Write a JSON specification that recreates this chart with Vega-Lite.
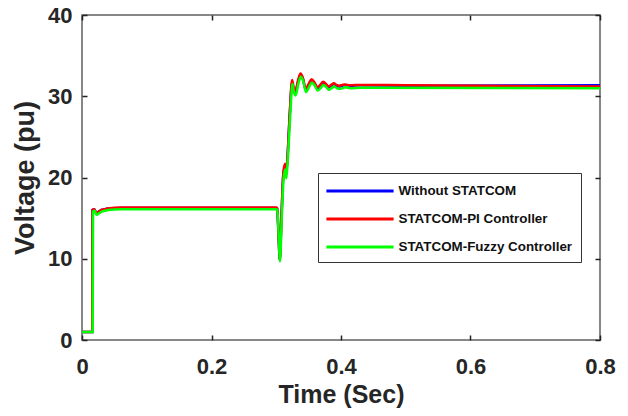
{
  "$schema": "https://vega.github.io/schema/vega-lite/v6.json",
  "autosize": "none",
  "width": 518,
  "height": 325,
  "padding": {"left": 82, "top": 15, "right": 28, "bottom": 76},
  "background": "white",
  "config": {
    "font": "Liberation Sans",
    "view": {"stroke": "#606060", "strokeWidth": 1.5},
    "axis": {
      "grid": false,
      "domain": false,
      "labelFlush": false,
      "labelOverlap": false,
      "tickColor": "#222222",
      "tickSize": -5,
      "tickWidth": 1.5,
      "labelFont": "Liberation Sans",
      "labelFontWeight": "bold",
      "labelFontSize": 22,
      "labelColor": "#262626",
      "titleFont": "Liberation Sans",
      "titleFontWeight": "bold",
      "titleColor": "#262626"
    }
  },
  "data": {
    "values": [
      {"series": "Without STATCOM", "t": 0, "v": 1},
      {"series": "Without STATCOM", "t": 0.0158, "v": 1},
      {"series": "Without STATCOM", "t": 0.0162, "v": 16.0},
      {"series": "Without STATCOM", "t": 0.019, "v": 16.1},
      {"series": "Without STATCOM", "t": 0.022, "v": 15.6},
      {"series": "Without STATCOM", "t": 0.026, "v": 15.8},
      {"series": "Without STATCOM", "t": 0.03, "v": 16.0},
      {"series": "Without STATCOM", "t": 0.035, "v": 16.1},
      {"series": "Without STATCOM", "t": 0.04, "v": 16.2},
      {"series": "Without STATCOM", "t": 0.06, "v": 16.25},
      {"series": "Without STATCOM", "t": 0.3, "v": 16.25},
      {"series": "Without STATCOM", "t": 0.3015, "v": 16.2},
      {"series": "Without STATCOM", "t": 0.3035, "v": 13},
      {"series": "Without STATCOM", "t": 0.3055, "v": 9.9},
      {"series": "Without STATCOM", "t": 0.308, "v": 15},
      {"series": "Without STATCOM", "t": 0.311, "v": 20.4},
      {"series": "Without STATCOM", "t": 0.3135, "v": 21.4},
      {"series": "Without STATCOM", "t": 0.315, "v": 20.3},
      {"series": "Without STATCOM", "t": 0.317, "v": 22},
      {"series": "Without STATCOM", "t": 0.321, "v": 28},
      {"series": "Without STATCOM", "t": 0.3245, "v": 31.7},
      {"series": "Without STATCOM", "t": 0.3265, "v": 31.0},
      {"series": "Without STATCOM", "t": 0.3295, "v": 30.5},
      {"series": "Without STATCOM", "t": 0.3335, "v": 31.7},
      {"series": "Without STATCOM", "t": 0.3375, "v": 32.6},
      {"series": "Without STATCOM", "t": 0.341, "v": 32.2},
      {"series": "Without STATCOM", "t": 0.3455, "v": 30.8},
      {"series": "Without STATCOM", "t": 0.35, "v": 31.4},
      {"series": "Without STATCOM", "t": 0.3545, "v": 31.9},
      {"series": "Without STATCOM", "t": 0.359, "v": 31.6},
      {"series": "Without STATCOM", "t": 0.3635, "v": 31.0},
      {"series": "Without STATCOM", "t": 0.368, "v": 31.3},
      {"series": "Without STATCOM", "t": 0.3725, "v": 31.7},
      {"series": "Without STATCOM", "t": 0.377, "v": 31.4},
      {"series": "Without STATCOM", "t": 0.3805, "v": 31.1},
      {"series": "Without STATCOM", "t": 0.385, "v": 31.3},
      {"series": "Without STATCOM", "t": 0.389, "v": 31.5},
      {"series": "Without STATCOM", "t": 0.393, "v": 31.3},
      {"series": "Without STATCOM", "t": 0.397, "v": 31.2},
      {"series": "Without STATCOM", "t": 0.402, "v": 31.3},
      {"series": "Without STATCOM", "t": 0.406, "v": 31.4},
      {"series": "Without STATCOM", "t": 0.414, "v": 31.3},
      {"series": "Without STATCOM", "t": 0.43, "v": 31.35},
      {"series": "Without STATCOM", "t": 0.5, "v": 31.3},
      {"series": "Without STATCOM", "t": 0.8, "v": 31.35},

      {"series": "STATCOM-PI Controller", "t": 0, "v": 1},
      {"series": "STATCOM-PI Controller", "t": 0.0158, "v": 1},
      {"series": "STATCOM-PI Controller", "t": 0.0162, "v": 16.0},
      {"series": "STATCOM-PI Controller", "t": 0.019, "v": 16.1},
      {"series": "STATCOM-PI Controller", "t": 0.022, "v": 15.6},
      {"series": "STATCOM-PI Controller", "t": 0.026, "v": 15.8},
      {"series": "STATCOM-PI Controller", "t": 0.03, "v": 16.0},
      {"series": "STATCOM-PI Controller", "t": 0.035, "v": 16.1},
      {"series": "STATCOM-PI Controller", "t": 0.04, "v": 16.2},
      {"series": "STATCOM-PI Controller", "t": 0.06, "v": 16.3},
      {"series": "STATCOM-PI Controller", "t": 0.3, "v": 16.3},
      {"series": "STATCOM-PI Controller", "t": 0.3015, "v": 16.2},
      {"series": "STATCOM-PI Controller", "t": 0.3035, "v": 13},
      {"series": "STATCOM-PI Controller", "t": 0.3055, "v": 9.9},
      {"series": "STATCOM-PI Controller", "t": 0.308, "v": 15},
      {"series": "STATCOM-PI Controller", "t": 0.311, "v": 20.6},
      {"series": "STATCOM-PI Controller", "t": 0.3135, "v": 21.7},
      {"series": "STATCOM-PI Controller", "t": 0.315, "v": 20.4},
      {"series": "STATCOM-PI Controller", "t": 0.317, "v": 22},
      {"series": "STATCOM-PI Controller", "t": 0.321, "v": 28},
      {"series": "STATCOM-PI Controller", "t": 0.3245, "v": 32.0},
      {"series": "STATCOM-PI Controller", "t": 0.3265, "v": 31.2},
      {"series": "STATCOM-PI Controller", "t": 0.3295, "v": 30.6},
      {"series": "STATCOM-PI Controller", "t": 0.3335, "v": 31.9},
      {"series": "STATCOM-PI Controller", "t": 0.3375, "v": 32.8},
      {"series": "STATCOM-PI Controller", "t": 0.341, "v": 32.3},
      {"series": "STATCOM-PI Controller", "t": 0.3455, "v": 30.9},
      {"series": "STATCOM-PI Controller", "t": 0.35, "v": 31.5},
      {"series": "STATCOM-PI Controller", "t": 0.3545, "v": 32.1},
      {"series": "STATCOM-PI Controller", "t": 0.359, "v": 31.7},
      {"series": "STATCOM-PI Controller", "t": 0.3635, "v": 31.1},
      {"series": "STATCOM-PI Controller", "t": 0.368, "v": 31.4},
      {"series": "STATCOM-PI Controller", "t": 0.3725, "v": 31.8},
      {"series": "STATCOM-PI Controller", "t": 0.377, "v": 31.5},
      {"series": "STATCOM-PI Controller", "t": 0.3805, "v": 31.2},
      {"series": "STATCOM-PI Controller", "t": 0.385, "v": 31.4},
      {"series": "STATCOM-PI Controller", "t": 0.389, "v": 31.6},
      {"series": "STATCOM-PI Controller", "t": 0.393, "v": 31.4},
      {"series": "STATCOM-PI Controller", "t": 0.397, "v": 31.3},
      {"series": "STATCOM-PI Controller", "t": 0.402, "v": 31.4},
      {"series": "STATCOM-PI Controller", "t": 0.406, "v": 31.45},
      {"series": "STATCOM-PI Controller", "t": 0.414, "v": 31.35},
      {"series": "STATCOM-PI Controller", "t": 0.43, "v": 31.4},
      {"series": "STATCOM-PI Controller", "t": 0.5, "v": 31.35},
      {"series": "STATCOM-PI Controller", "t": 0.8, "v": 31.2},

      {"series": "STATCOM-Fuzzy Controller", "t": 0, "v": 1},
      {"series": "STATCOM-Fuzzy Controller", "t": 0.0165, "v": 1},
      {"series": "STATCOM-Fuzzy Controller", "t": 0.017, "v": 15.8},
      {"series": "STATCOM-Fuzzy Controller", "t": 0.0195, "v": 15.9},
      {"series": "STATCOM-Fuzzy Controller", "t": 0.0225, "v": 15.4},
      {"series": "STATCOM-Fuzzy Controller", "t": 0.0265, "v": 15.6},
      {"series": "STATCOM-Fuzzy Controller", "t": 0.0305, "v": 15.8},
      {"series": "STATCOM-Fuzzy Controller", "t": 0.0355, "v": 15.9},
      {"series": "STATCOM-Fuzzy Controller", "t": 0.0405, "v": 16.0},
      {"series": "STATCOM-Fuzzy Controller", "t": 0.06, "v": 16.1},
      {"series": "STATCOM-Fuzzy Controller", "t": 0.3, "v": 16.1},
      {"series": "STATCOM-Fuzzy Controller", "t": 0.3015, "v": 16.0},
      {"series": "STATCOM-Fuzzy Controller", "t": 0.3037, "v": 13},
      {"series": "STATCOM-Fuzzy Controller", "t": 0.3058, "v": 9.7},
      {"series": "STATCOM-Fuzzy Controller", "t": 0.3085, "v": 15},
      {"series": "STATCOM-Fuzzy Controller", "t": 0.3115, "v": 20.0},
      {"series": "STATCOM-Fuzzy Controller", "t": 0.314, "v": 21.0},
      {"series": "STATCOM-Fuzzy Controller", "t": 0.3155, "v": 19.9},
      {"series": "STATCOM-Fuzzy Controller", "t": 0.3175, "v": 21.8},
      {"series": "STATCOM-Fuzzy Controller", "t": 0.3215, "v": 27.5},
      {"series": "STATCOM-Fuzzy Controller", "t": 0.325, "v": 31.5},
      {"series": "STATCOM-Fuzzy Controller", "t": 0.327, "v": 30.6},
      {"series": "STATCOM-Fuzzy Controller", "t": 0.33, "v": 30.1},
      {"series": "STATCOM-Fuzzy Controller", "t": 0.334, "v": 31.5},
      {"series": "STATCOM-Fuzzy Controller", "t": 0.338, "v": 32.4},
      {"series": "STATCOM-Fuzzy Controller", "t": 0.3415, "v": 31.9},
      {"series": "STATCOM-Fuzzy Controller", "t": 0.346, "v": 30.5},
      {"series": "STATCOM-Fuzzy Controller", "t": 0.3505, "v": 31.1},
      {"series": "STATCOM-Fuzzy Controller", "t": 0.355, "v": 31.7},
      {"series": "STATCOM-Fuzzy Controller", "t": 0.3595, "v": 31.3},
      {"series": "STATCOM-Fuzzy Controller", "t": 0.364, "v": 30.7},
      {"series": "STATCOM-Fuzzy Controller", "t": 0.3685, "v": 31.0},
      {"series": "STATCOM-Fuzzy Controller", "t": 0.373, "v": 31.4},
      {"series": "STATCOM-Fuzzy Controller", "t": 0.3775, "v": 31.1},
      {"series": "STATCOM-Fuzzy Controller", "t": 0.381, "v": 30.8},
      {"series": "STATCOM-Fuzzy Controller", "t": 0.3855, "v": 31.0},
      {"series": "STATCOM-Fuzzy Controller", "t": 0.3895, "v": 31.2},
      {"series": "STATCOM-Fuzzy Controller", "t": 0.3935, "v": 31.0},
      {"series": "STATCOM-Fuzzy Controller", "t": 0.3975, "v": 30.9},
      {"series": "STATCOM-Fuzzy Controller", "t": 0.4025, "v": 31.0},
      {"series": "STATCOM-Fuzzy Controller", "t": 0.4065, "v": 31.1},
      {"series": "STATCOM-Fuzzy Controller", "t": 0.414, "v": 31.0},
      {"series": "STATCOM-Fuzzy Controller", "t": 0.43, "v": 31.05},
      {"series": "STATCOM-Fuzzy Controller", "t": 0.8, "v": 31.0}
    ]
  },
  "layer": [
    {
      "mark": {"type": "line", "strokeWidth": 2.5, "interpolate": "monotone"},
      "encoding": {
        "x": {
          "field": "t", "type": "quantitative",
          "scale": {"domain": [0, 0.8], "nice": false, "zero": false},
          "axis": {"title": "Time (Sec)", "titleFontSize": 25, "values": [0, 0.2, 0.4, 0.6, 0.8], "format": "~g", "labelPadding": 21, "titlePadding": 5}
        },
        "y": {
          "field": "v", "type": "quantitative",
          "scale": {"domain": [0, 40], "nice": false},
          "axis": {"title": "Voltage (pu)", "titleFontSize": 27, "values": [0, 10, 20, 30, 40], "labelPadding": 15, "titlePadding": 8}
        },
        "color": {
          "field": "series", "type": "nominal",
          "scale": {
            "domain": ["Without STATCOM", "STATCOM-PI Controller", "STATCOM-Fuzzy Controller"],
            "range": ["#0000FF", "#FF0000", "#00FF00"]
          },
          "legend": {
            "title": null,
            "orient": "none",
            "legendX": 236,
            "legendY": 158,
            "direction": "vertical",
            "fillColor": "white",
            "strokeColor": "#333333",
            "padding": 8.5,
            "symbolType": "M-4.2,0H4.2",
            "symbolSize": 256,
            "symbolStrokeWidth": 3,
            "symbolOffset": 24,
            "labelFont": "Liberation Sans",
            "labelFontWeight": "bold",
            "labelFontSize": 13.4,
            "labelColor": "#111111",
            "labelLimit": 300,
            "rowPadding": 12,
            "labelOffset": 29
          }
        }
      }
    },
    {
      "mark": {"type": "point", "opacity": 0},
      "encoding": {
        "x": {
          "field": "t", "type": "quantitative",
          "axis": {"orient": "top", "title": null, "labels": false, "values": [0, 0.2, 0.4, 0.6, 0.8]}
        },
        "y": {
          "field": "v", "type": "quantitative",
          "axis": {"orient": "right", "title": null, "labels": false, "values": [0, 10, 20, 30, 40]}
        }
      }
    }
  ],
  "resolve": {"axis": {"x": "independent", "y": "independent"}}
}
